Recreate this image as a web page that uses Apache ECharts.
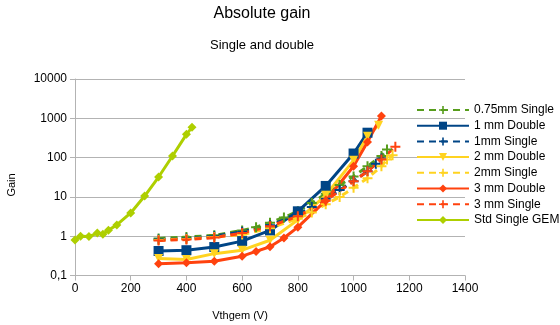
<!DOCTYPE html>
<html><head><meta charset="utf-8">
<script src="https://cdn.jsdelivr.net/npm/echarts@6/dist/echarts.min.js"></script>
<style>html,body{margin:0;padding:0;background:#fff}#c{width:560px;height:325px}</style>
</head><body><div id="c"></div>
<script>
// ---- data ----
const xTicks = [0, 200, 400, 600, 800, 1000, 1200, 1400];
const yTicks = [0.1, 1, 10, 100, 1000, 10000];

const s075Single_x = [300, 400, 500, 600, 650, 700, 750, 800, 850, 900, 950, 1000, 1050, 1100, 1120];
const s075Single_y = [0.88, 0.95, 1.05, 1.4, 1.7, 2.2, 3, 4.3, 7, 12, 20, 33, 60, 110, 160];

const d1Double_x = [300, 400, 500, 600, 700, 800, 900, 1000, 1050];
const d1Double_y = [0.42, 0.44, 0.53, 0.75, 1.4, 4.3, 19, 127, 430];

const s1Single_x = [300, 400, 500, 600, 700, 800, 850, 900, 950, 1000, 1050, 1080, 1100];
const s1Single_y = [0.82, 0.87, 1.0, 1.3, 1.9, 3.5, 5.5, 9, 15, 25, 45, 70, 95];

const d2Double_x = [300, 400, 500, 600, 700, 800, 900, 1000, 1050, 1090];
const d2Double_y = [0.27, 0.255, 0.36, 0.44, 0.79, 2.6, 11, 85, 350, 670];

const s2Single_x = [300, 400, 500, 600, 700, 800, 850, 900, 950, 1000, 1050, 1100, 1120, 1140];
const s2Single_y = [0.8, 0.85, 0.95, 1.1, 1.6, 2.8, 4, 6.5, 10, 17, 30, 60, 90, 115];

const d3Double_x = [300, 400, 500, 600, 650, 700, 750, 800, 900, 1000, 1050, 1100];
const d3Double_y = [0.2, 0.21, 0.23, 0.31, 0.41, 0.54, 0.9, 1.7, 8, 60, 250, 1150];

const s3Single_x = [300, 400, 500, 600, 700, 800, 900, 1000, 1050, 1100, 1150];
const s3Single_y = [0.78, 0.82, 0.92, 1.2, 1.8, 3.2, 8, 25, 45, 90, 190];

const stdSingle_x = [0, 20, 50, 80, 100, 120, 150, 200, 250, 300, 350, 400, 420];
const stdSingle_y = [0.8, 1.0, 0.98, 1.2, 1.12, 1.42, 1.94, 3.9, 10.5, 32, 110, 390, 590];

const seriesNames = ['0.75mm Single', '1 mm Double', '1mm Single', '2 mm Double', '2mm Single', '3 mm Double', '3 mm Single', 'Std Single GEM'];
// ---------------

const PLUS = 'path://M4,0H6V4H10V6H6V10H4V6H0V4H4Z';
const zip = (xs, ys) => xs.map((x, i) => [x, ys[i]]);

function mk(name, xs, ys, color, dashed, symbol, size, rot) {
  return {
    name, type: 'line', data: zip(xs, ys),
    symbol, symbolSize: size, symbolRotate: rot || 0,
    lineStyle: { color, width: 3, type: dashed ? [7, 5] : 'solid' },
    itemStyle: { color },
    emphasis: { disabled: true },
    animation: false, z: 3
  };
}

const chart = echarts.init(document.getElementById('c'), null, { renderer: 'canvas' });
const FONT = 'Liberation Sans';
chart.setOption({
  animation: false,
  textStyle: { fontFamily: FONT },
  graphic: [
    { type: 'text', style: { text: 'Absolute gain', x: 262, y: 14, fontSize: 16, fontFamily: FONT, fill: '#000', textAlign: 'center', textVerticalAlign: 'middle' } },
    { type: 'text', style: { text: 'Single and double', x: 262, y: 45, fontSize: 13, fontFamily: FONT, fill: '#000', textAlign: 'center', textVerticalAlign: 'middle' } },
    { type: 'text', style: { text: 'Vthgem (V)', x: 240, y: 316, fontSize: 11, fontFamily: FONT, fill: '#000', textAlign: 'center', textVerticalAlign: 'middle' } },
    { type: 'text', rotation: Math.PI / 2, x: 12, y: 185, style: { text: 'Gain', x: 0, y: 0, fontSize: 11, fontFamily: FONT, fill: '#000', textAlign: 'center', textVerticalAlign: 'middle' } }
  ],
  grid: { left: 75, right: 95, top: 79, bottom: 49.5, containLabel: false },
  legend: {
    orient: 'vertical', left: 411, top: 99, padding: 5,
    itemWidth: 52, itemHeight: 10, itemGap: 3.7,
    textStyle: { fontSize: 12, lineHeight: 10, color: '#000', fontFamily: FONT },
    data: seriesNames
  },
  xAxis: {
    type: 'value', min: 0, max: 1400, interval: 200,
    axisLine: { lineStyle: { color: '#b3b3b3' } },
    axisTick: { show: true, length: 5, lineStyle: { color: '#b3b3b3' } },
    splitLine: { show: false },
    axisLabel: { fontSize: 12, color: '#000', margin: 7, formatter: v => String(v) }
  },
  yAxis: {
    type: 'log', logBase: 10, min: 0.1, max: 10000,
    axisLine: { show: true, lineStyle: { color: '#b3b3b3' } },
    axisTick: { show: true, length: 5, lineStyle: { color: '#b3b3b3' } },
    splitLine: { show: true, lineStyle: { color: '#b3b3b3' } },
    axisLabel: { fontSize: 12, color: '#000', margin: 8,
      formatter: v => String(Number(v.toPrecision(6))).replace('.', ',') }
  },
  series: [
    mk(seriesNames[0], s075Single_x, s075Single_y, '#579d1c', true, PLUS, 10),
    mk(seriesNames[1], d1Double_x, d1Double_y, '#004586', false, 'rect', 10),
    mk(seriesNames[2], s1Single_x, s1Single_y, '#004586', true, PLUS, 10),
    mk(seriesNames[3], d2Double_x, d2Double_y, '#ffd320', false, 'triangle', 9, 180),
    mk(seriesNames[4], s2Single_x, s2Single_y, '#ffd320', true, PLUS, 10),
    mk(seriesNames[5], d3Double_x, d3Double_y, '#ff420e', false, 'diamond', 9),
    mk(seriesNames[6], s3Single_x, s3Single_y, '#ff420e', true, PLUS, 10),
    mk(seriesNames[7], stdSingle_x, stdSingle_y, '#aecf00', false, 'diamond', 9)
  ]
});
</script></body></html>
